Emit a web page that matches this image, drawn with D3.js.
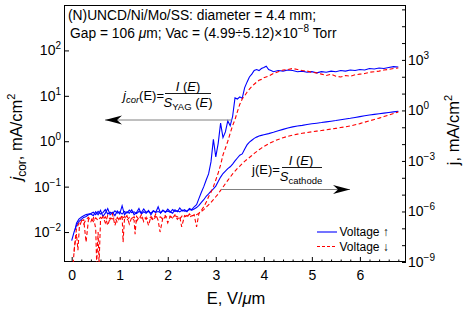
<!DOCTYPE html>
<html>
<head>
<meta charset="utf-8">
<script src="https://cdn.jsdelivr.net/npm/d3@7"></script>
<style>
body { margin: 0; background: #fff; }
svg text { font-family: "Liberation Sans", Arial, sans-serif; fill: #000; }
</style>
</head>
<body>
<div id="chart"></div>
<script>
var width = 471,
    height = 313;

// j_cor, voltage up (left axis)
var eUpCor = [0,0.05,0.1,0.15,0.2,0.25,0.3,0.35,
  0.4,0.45,0.5,0.55,0.6,0.65,0.7,0.75,0.8,0.85,0.9,0.95,
  1.0,1.05,1.1,1.15,1.2,1.25,1.3,1.35,1.4,1.45,1.5,1.55,1.6,1.65,1.7,1.75,1.8,1.85,1.9,1.95,
  2.0,2.05,2.1,2.15,2.2,2.25,2.3,2.35,2.4,2.45,2.5,2.55,2.6,2.65,2.7,2.75,2.8,2.85,2.9,2.95,
  3.0,3.05,3.1,3.15,3.2,3.25,3.3,3.35,3.4,3.45,3.5,3.55,3.6,3.65,3.7,3.75,3.8,3.85,3.9,3.95,
  4.0,4.05,4.1,4.15,4.2,4.3,4.4,4.5,4.6,4.7,4.8,4.9,5.0,5.1,5.2,5.3,5.4,5.5,5.6,5.7,5.8,5.9,
  6.0,6.1,6.2,6.3,6.4,6.5,6.6,6.7,6.8];
var jUpCor = [0.0065,0.010,0.014,0.017,0.019,0.021,0.022,0.024,
  0.025,0.023,0.028,0.024,0.030,0.022,0.026,0.033,0.024,0.027,0.023,0.029,
  0.025,0.038,0.024,0.028,0.026,0.031,0.024,0.027,0.033,0.025,0.028,0.026,0.030,0.024,0.029,0.027,0.036,0.026,0.030,0.027,
  0.032,0.028,0.026,0.031,0.028,0.034,0.029,0.031,0.028,0.033,0.031,0.036,0.040,0.055,0.075,0.10,0.14,0.19,0.35,1.1,
  0.45,0.9,2.5,1.2,1.6,2.8,2.2,3.5,9.0,8.5,9.5,8.8,15,20,26,30,36,38,36,40,
  42,45,38,36,34,36,35,37,36,34,35,33,34,32,34,33,35,34,36,35,37,36,
  38,37,40,39,41,40,42,44,43];

// j_cor, voltage down (left axis)
var eDownCor = [0.03,0.06,0.1,0.13,0.16,0.2,0.25,0.3,0.35,0.4,0.45,0.5,0.52,0.55,0.57,
  0.6,0.65,0.7,0.75,0.8,0.85,0.9,0.95,1.0,1.05,1.07,1.1,1.15,1.2,1.25,1.3,1.32,1.35,1.4,1.45,
  1.5,1.55,1.6,1.65,1.7,1.75,1.8,1.84,1.9,1.95,2.0,2.05,2.1,2.15,2.2,2.25,2.29,2.35,2.4,2.45,
  2.5,2.55,2.6,2.65,2.7,2.75,2.8,2.85,2.9,2.95,
  3.0,3.05,3.1,3.15,3.2,3.25,3.3,3.35,3.4,3.45,3.5,3.55,3.6,3.65,3.7,3.75,3.8,3.85,3.9,3.95,
  4.0,4.1,4.2,4.3,4.4,4.5,4.6,4.7,4.8,4.9,5.0,5.1,5.2,5.3,5.4,5.5,5.6,5.7,5.8,5.9,
  6.0,6.1,6.2,6.3,6.4,6.5,6.6,6.7,6.8];
var jDownCor = [0.002,0.005,0.009,0.004,0.013,0.017,0.015,0.019,0.021,0.017,0.022,0.012,0.002,0.010,0.002,
  0.018,0.022,0.016,0.023,0.019,0.025,0.014,0.021,0.018,0.024,0.006,0.020,0.023,0.015,0.021,0.018,0.009,0.022,0.019,0.024,
  0.017,0.021,0.014,0.022,0.019,0.025,0.018,0.010,0.021,0.023,0.016,0.022,0.020,0.024,0.019,0.022,0.013,0.023,0.021,0.025,
  0.022,0.024,0.013,0.026,0.030,0.036,0.045,0.06,0.075,0.10,
  0.14,0.20,0.30,0.50,0.70,1.0,1.5,2.2,3.0,4.5,6.5,8.5,10,12,14,16,18,20,22,23,
  25,27,31,34,37,38,40,38,36,35,33,32,30,28,30,27,26,28,27,29,
  30,31,33,34,35,37,38,40,41];

// j, voltage up (right axis)
var eUp = [0.07,0.1,0.15,0.2,0.25,0.3,0.35,
  0.4,0.45,0.5,0.55,0.6,0.65,0.7,0.75,0.8,0.85,0.9,0.95,
  1.0,1.05,1.1,1.15,1.2,1.25,1.3,1.35,1.4,1.45,1.5,1.55,1.6,1.65,1.7,1.75,1.8,1.85,1.9,1.95,
  2.0,2.05,2.1,2.15,2.2,2.25,2.3,2.35,2.4,2.45,2.5,2.55,2.6,2.65,2.7,2.75,2.8,2.85,2.9,2.95,
  3.0,3.05,3.1,3.15,3.2,3.25,3.3,3.35,3.4,3.45,3.5,3.55,3.6,3.65,3.7,3.75,3.8,3.85,3.9,3.95,
  4.0,4.1,4.2,4.3,4.4,4.5,4.6,4.7,4.8,4.9,5.0,5.1,5.2,5.3,5.4,5.5,5.6,5.7,5.8,5.9,
  6.0,6.1,6.2,6.3,6.4,6.5,6.6,6.7,6.8];
var jUp = [8e-8,2.0e-7,3.5e-7,4.5e-7,5.5e-7,6.5e-7,7e-7,
  7.5e-7,9e-7,6.5e-7,1.0e-6,7e-7,8.5e-7,1.3e-6,7e-7,9e-7,7.5e-7,1.1e-6,8e-7,
  9.5e-7,7e-7,1.0e-6,8e-7,1.2e-6,8.5e-7,9.5e-7,7.5e-7,1.0e-6,8.5e-7,1.4e-6,9e-7,1.0e-6,8e-7,1.1e-6,9e-7,1.0e-6,8.5e-7,1.2e-6,9.5e-7,
  1.05e-6,9e-7,1.3e-6,1.0e-6,1.1e-6,9.5e-7,1.2e-6,1.05e-6,1.1e-6,1.3e-6,1.2e-6,1.4e-6,1.7e-6,2.3e-6,3.5e-6,5e-6,8e-6,1.1e-5,1.6e-5,2.2e-5,
  3.2e-5,6e-5,1.1e-4,1.8e-4,2.5e-4,3.5e-4,4.5e-4,6.5e-4,1.0e-3,1.5e-3,2.2e-3,2.6e-3,5e-3,9e-3,1.3e-2,1.7e-2,2.2e-2,2.6e-2,3.0e-2,3.3e-2,
  3.6e-2,4.2e-2,5.0e-2,6.2e-2,7.5e-2,9.0e-2,0.105,0.12,0.13,0.145,0.16,0.175,0.19,0.21,0.23,0.25,0.28,0.31,0.34,0.38,
  0.43,0.48,0.53,0.58,0.63,0.69,0.75,0.82,0.88];

// j, voltage down (right axis)
var eDown = [0.05,0.08,0.1,0.15,0.2,0.25,0.3,0.35,
  0.4,0.45,0.5,0.55,0.6,0.65,0.7,0.75,0.8,0.85,0.9,0.95,
  1.0,1.05,1.1,1.15,1.2,1.25,1.3,1.35,1.4,1.45,1.5,1.55,1.6,1.65,1.7,1.75,1.8,1.85,1.9,1.95,
  2.0,2.05,2.1,2.15,2.2,2.25,2.3,2.35,2.4,2.45,2.5,2.55,2.6,2.65,2.7,2.75,2.8,2.85,2.9,2.95,
  3.0,3.05,3.1,3.15,3.2,3.25,3.3,3.35,3.4,3.45,3.5,3.55,3.6,3.65,3.7,3.75,3.8,3.85,3.9,3.95,
  4.0,4.1,4.2,4.3,4.4,4.5,4.6,4.7,4.8,4.9,5.0,5.1,5.2,5.3,5.4,5.5,5.6,5.7,5.8,5.9,
  6.0,6.1,6.2,6.3,6.4,6.5,6.6,6.7,6.8];
var jDown = [4e-9,3e-8,1e-7,2e-7,2.8e-7,3.2e-7,1.5e-8,3.5e-7,
  4e-7,2.5e-7,4.2e-7,3e-7,4.5e-7,3.3e-7,4.8e-7,1.5e-7,4e-7,3.6e-7,4.5e-7,2.2e-7,
  4.2e-7,3.8e-7,5e-7,3e-7,4.4e-7,3.9e-7,4.8e-7,2.6e-7,4.5e-7,4e-7,5.2e-7,3.5e-7,4.6e-7,4.2e-7,3e-7,5e-7,4.4e-7,4.8e-7,3.3e-7,5e-7,
  4.6e-7,5.3e-7,4.1e-7,5.5e-7,4.9e-7,3.6e-7,5.4e-7,5e-7,5.8e-7,4.4e-7,5.6e-7,6e-7,6.5e-7,8e-7,1.0e-6,1.3e-6,1.8e-6,2.5e-6,3.5e-6,5e-6,
  7.5e-6,1.1e-5,1.8e-5,2.8e-5,4.5e-5,7e-5,1.1e-4,1.7e-4,2.5e-4,3.6e-4,5e-4,7e-4,9.5e-4,1.25e-3,1.6e-3,2.1e-3,2.8e-3,3.6e-3,4.6e-3,5.8e-3,
  7.2e-3,1.05e-2,1.45e-2,1.9e-2,2.4e-2,2.9e-2,3.4e-2,3.9e-2,4.4e-2,4.9e-2,5.4e-2,5.9e-2,6.4e-2,7.0e-2,7.8e-2,8.6e-2,9.6e-2,0.107,0.12,0.14,
  0.165,0.2,0.24,0.29,0.35,0.43,0.53,0.65,0.82];

var xTicks = [0, 1, 2, 3, 4, 5, 6];
var leftTicks = [1e-2, 1e-1, 1, 1e1, 1e2];
var rightTicks = [1e-9, 1e-8, 1e-7, 1e-6, 1e-5, 1e-4, 1e-3, 1e-2, 1e-1, 1, 1e1, 1e2, 1e3, 1e4, 1e5, 1e6];
var rightLabelled = [-9, -6, -3, 0, 3];

var pl = 64, pr = 406, pt = 5, pb = 262;

var svg = d3.select("#chart").append("svg")
    .attr("width", width)
    .attr("height", height);

var x = d3.scaleLinear().domain([-0.16, 6.96]).range([pl, pr]);
var yL = d3.scaleLog().domain([Math.pow(10, -2.66), 1000]).range([pb, pt]);
var yR = d3.scaleLog().domain([1e-9, Math.pow(10, 6.26)]).range([pb, pt]);

svg.append("clipPath").attr("id", "clip")
  .append("rect")
    .attr("x", pl).attr("y", pt)
    .attr("width", pr - pl).attr("height", pb - pt);

function expLabel(text, d) {
  var e = Math.round(Math.log10(d));
  text.text(null);
  text.append("tspan").text("10");
  text.append("tspan").attr("dy", "-6px").attr("font-size", "10px")
    .text(e < 0 ? "\u2212" + (-e) : e);
}

function styleAxis(g) {
  g.attr("font-size", "14px").attr("font-family", null);
  g.select(".domain").remove();
  g.selectAll(".tick line").attr("stroke", "#000");
}

// bottom axis
svg.append("g")
    .attr("transform", "translate(0," + pb + ")")
    .call(d3.axisBottom(x).tickValues(xTicks).tickSizeInner(-5).tickSizeOuter(0).tickPadding(8).tickFormat(d3.format("d")))
    .call(styleAxis);

svg.append("g")
    .attr("transform", "translate(0," + pb + ")")
    .call(d3.axisBottom(x).tickValues(d3.range(1, 35).map(function(i) { return i / 5; }).filter(function(v) { return v % 1 !== 0; }))
      .tickSizeInner(-2.5).tickSizeOuter(0).tickFormat(""))
    .call(styleAxis);

// left axis
var gl = svg.append("g")
    .attr("transform", "translate(" + pl + ",0)")
    .call(d3.axisLeft(yL).tickValues(leftTicks).tickSizeInner(-5).tickSizeOuter(0).tickPadding(3).tickFormat(""))
    .call(styleAxis);
gl.selectAll(".tick text").each(function(d) { expLabel(d3.select(this), d); });

// right axis
var gr = svg.append("g")
    .attr("transform", "translate(" + pr + ",0)")
    .call(d3.axisRight(yR).tickValues(rightTicks).tickSizeInner(-4).tickSizeOuter(0).tickPadding(2).tickFormat(""))
    .call(styleAxis);
gr.selectAll(".tick").each(function(d) {
  var e = Math.round(Math.log10(d));
  var t = d3.select(this).select("text");
  if (rightLabelled.indexOf(e) >= 0) expLabel(t, d);
  else t.remove();
});

// frame
svg.append("rect")
    .attr("x", pl + 0.5).attr("y", pt + 0.5)
    .attr("width", pr - pl - 1).attr("height", pb - pt - 1)
    .attr("fill", "none").attr("stroke", "#000").attr("stroke-width", 1);

// curves
var plot = svg.append("g").attr("clip-path", "url(#clip)");

function curve(es, js, yScale, color, dash) {
  var line = d3.line()
      .x(function(d) { return x(d[0]); })
      .y(function(d) { return yScale(d[1]); });
  plot.append("path")
      .datum(d3.zip(es, js))
      .attr("d", line)
      .attr("fill", "none")
      .attr("stroke", color)
      .attr("stroke-width", 1.1)
      .attr("stroke-dasharray", dash);
}

curve(eUpCor, jUpCor, yL, "#0000ff", null);
curve(eUp, jUp, yR, "#0000ff", null);
curve(eDownCor, jDownCor, yL, "#ff0000", "4,2.5");
curve(eDown, jDown, yR, "#ff0000", "4,2.5");

// header text
svg.append("text").attr("x", 68).attr("y", 20).attr("font-size", "13.8px")
    .text("(N)UNCD/Ni/Mo/SS: diameter = 4.4 mm;");
var t2 = svg.append("text").attr("x", 70).attr("y", 38).attr("font-size", "13.8px");
t2.append("tspan").text("Gap = 106 ");
t2.append("tspan").attr("font-style", "italic").text("\u03bc");
t2.append("tspan").text("m; Vac = (4.99\u00f75.12)\u00d710");
t2.append("tspan").attr("dy", "-6px").attr("font-size", "10px").text("\u22128");
t2.append("tspan").attr("dy", "6px").text(" Torr");

// axis titles
var tl = svg.append("text").attr("transform", "translate(22,137) rotate(-90)")
    .attr("text-anchor", "middle").attr("font-size", "16.5px");
tl.append("tspan").attr("font-style", "italic").text("j");
tl.append("tspan").attr("dy", "4px").attr("font-size", "12px").text("cor");
tl.append("tspan").attr("dy", "-4px").text(", mA/cm");
tl.append("tspan").attr("dy", "-7px").attr("font-size", "11px").text("2");

var tr = svg.append("text").attr("transform", "translate(459,130) rotate(-90)")
    .attr("text-anchor", "middle").attr("font-size", "16.5px");
tr.append("tspan").text("j, mA/cm");
tr.append("tspan").attr("dy", "-7px").attr("font-size", "11px").text("2");

var tx = svg.append("text").attr("x", 236).attr("y", 304)
    .attr("text-anchor", "middle").attr("font-size", "16.5px");
tx.append("tspan").text("E, V/");
tx.append("tspan").attr("font-style", "italic").text("\u03bc");
tx.append("tspan").text("m");

// annotation arrows
function arrow(x1, x2, y) {
  svg.append("line").attr("x1", x1).attr("x2", x2).attr("y1", y).attr("y2", y)
      .attr("stroke", "#808080").attr("stroke-width", 1);
  var dir = x2 > x1 ? -1 : 1;
  svg.append("path")
      .attr("d", "M" + x2 + "," + y + "L" + (x2 + dir * 17) + "," + (y - 4.5) +
        "L" + (x2 + dir * 12) + "," + y + "L" + (x2 + dir * 17) + "," + (y + 4.5) + "Z")
      .attr("fill", "#000");
}
arrow(232, 105, 120);
arrow(221, 350, 189.5);

// annotation 1: j_cor(E) = I(E)/S_YAG(E)
var a1 = svg.append("text").attr("x", 123).attr("y", 99.5).attr("font-size", "13px");
a1.append("tspan").attr("font-style", "italic").text("j");
a1.append("tspan").attr("dy", "3px").attr("font-size", "9.5px").attr("font-style", "italic").text("cor");
a1.append("tspan").attr("dy", "-3px").text("(E)=");
svg.append("line").attr("x1", 165).attr("x2", 211).attr("y1", 93.5).attr("y2", 93.5)
    .attr("stroke", "#000").attr("stroke-width", 0.9);
var n1 = svg.append("text").attr("x", 188).attr("y", 91).attr("text-anchor", "middle").attr("font-size", "13px");
n1.append("tspan").attr("font-style", "italic").text("I");
n1.append("tspan").text(" (");
n1.append("tspan").attr("font-style", "italic").text("E");
n1.append("tspan").text(")");
var d1 = svg.append("text").attr("x", 188).attr("y", 106.5).attr("text-anchor", "middle").attr("font-size", "13px");
d1.append("tspan").attr("font-style", "italic").text("S");
d1.append("tspan").attr("dy", "3px").attr("font-size", "9.5px").text("YAG");
d1.append("tspan").attr("dy", "-3px").text(" (");
d1.append("tspan").attr("font-style", "italic").text("E");
d1.append("tspan").text(")");

// annotation 2: j(E) = I(E)/S_cathode
svg.append("text").attr("x", 252).attr("y", 174).attr("font-size", "13px").text("j(E)=");
svg.append("line").attr("x1", 282).attr("x2", 322).attr("y1", 167.5).attr("y2", 167.5)
    .attr("stroke", "#000").attr("stroke-width", 0.9);
var n2 = svg.append("text").attr("x", 301).attr("y", 164.5).attr("text-anchor", "middle").attr("font-size", "13px");
n2.append("tspan").attr("font-style", "italic").text("I");
n2.append("tspan").text(" (");
n2.append("tspan").attr("font-style", "italic").text("E");
n2.append("tspan").text(")");
var d2 = svg.append("text").attr("x", 301).attr("y", 181).attr("text-anchor", "middle").attr("font-size", "13px");
d2.append("tspan").attr("font-style", "italic").text("S");
d2.append("tspan").attr("dy", "3px").attr("font-size", "9.5px").text("cathode");

// legend
var legend = svg.append("g");
legend.append("line").attr("x1", 317).attr("x2", 337).attr("y1", 232).attr("y2", 232)
    .attr("stroke", "#0000ff").attr("stroke-width", 1.1);
legend.append("line").attr("x1", 317).attr("x2", 337).attr("y1", 246.5).attr("y2", 246.5)
    .attr("stroke", "#ff0000").attr("stroke-width", 1.1).attr("stroke-dasharray", "3,2");
legend.append("text").attr("x", 339.5).attr("y", 236).attr("font-size", "12px").text("Voltage \u2191");
legend.append("text").attr("x", 339.5).attr("y", 250.5).attr("font-size", "12px").text("Voltage \u2193");
</script>
</body>
</html>
